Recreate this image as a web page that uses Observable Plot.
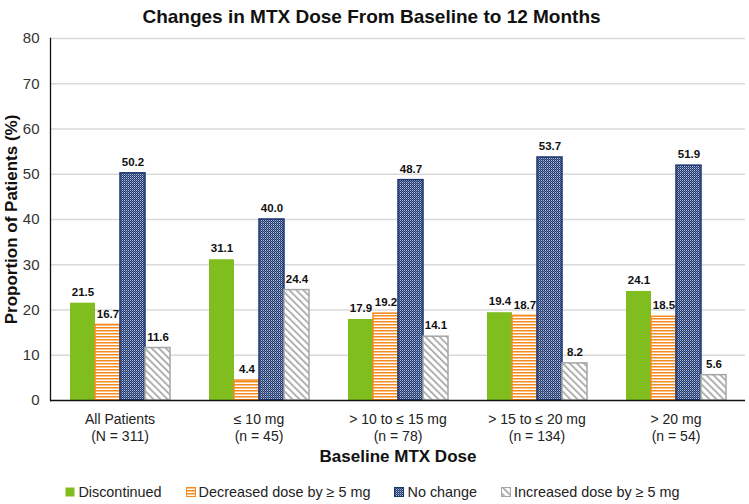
<!DOCTYPE html>
<html><head><meta charset="utf-8">
<script src="https://cdn.jsdelivr.net/npm/d3@7"></script>
<script src="https://cdn.jsdelivr.net/npm/@observablehq/plot@0.6"></script>
<style>
body{margin:0;background:#fff;font-family:"Liberation Sans",Arial,sans-serif;width:749px;height:504px;overflow:hidden;}
#title{height:30px;line-height:34px;text-align:center;font-weight:bold;font-size:19px;color:#111;padding-right:6px;}
#chart svg{display:block;font-family:"Liberation Sans",Arial,sans-serif;}
#legend{display:flex;justify-content:center;gap:24px;margin-top:14px;font-size:14.4px;color:#222;padding-right:4px;}
#legend span.item{display:flex;align-items:center;gap:3px;}
</style></head><body>
<svg width="0" height="0" style="position:absolute">
  <defs>
    <pattern id="pDec" patternUnits="userSpaceOnUse" width="4" height="3">
      <rect width="4" height="3" fill="#ffffff"/>
      <rect width="4" height="1.5" fill="#F58A1F"/>
    </pattern>
    <pattern id="pNo" patternUnits="userSpaceOnUse" width="2" height="2">
      <rect width="2" height="2" fill="#1F3A73"/>
      <rect width="1" height="1" fill="#B3BED3"/>
      <rect x="1" y="1" width="1" height="1" fill="#66769C"/>
    </pattern>
    <pattern id="pInc" patternUnits="userSpaceOnUse" width="5" height="5" patternTransform="rotate(-45)">
      <rect width="5" height="5" fill="#ffffff"/>
      <rect width="1.7" height="5" fill="#A6A6A6"/>
    </pattern>
  </defs>
</svg>
<div id="title">Changes in MTX Dose From Baseline to 12 Months</div>
<div id="chart"></div>
<div id="legend"></div>
<script>
// ---- data ----
const groups = ["All Patients", "≤ 10 mg", "> 10 to ≤ 15 mg", "> 15 to ≤ 20 mg", "> 20 mg"];
const groupN = ["(N = 311)", "(n = 45)", "(n = 78)", "(n = 134)", "(n = 54)"];
const series = ["Discontinued", "Decreased dose by ≥ 5 mg", "No change", "Increased dose by ≥ 5 mg"];
const discontinued = [21.5, 31.1, 17.9, 19.4, 24.1];
const decreased = [16.7, 4.4, 19.2, 18.7, 18.5];
const noChange = [50.2, 40.0, 48.7, 53.7, 51.9];
const increased = [11.6, 24.4, 14.1, 8.2, 5.6];
const yTicks = [0, 10, 20, 30, 40, 50, 60, 70, 80];

// ---- styles ----
const seriesFill = ["#80BD1E", "url(#pDec)", "url(#pNo)", "url(#pInc)"];
const seriesStroke = ["none", "#F58A1F", "#1B3570", "#A6A6A6"];

const valuesBySeries = [discontinued, decreased, noChange, increased];
const rows = [];
groups.forEach((g, gi) => {
  series.forEach((s, si) => {
    rows.push({group: g, series: s, value: valuesBySeries[si][gi], fill: seriesFill[si], stroke: seriesStroke[si]});
  });
});

const chart = Plot.plot({
  width: 749,
  height: 440,
  marginLeft: 48,
  marginRight: 2,
  marginTop: 8,
  marginBottom: 70,
  style: {fontFamily: "Liberation Sans, Arial, sans-serif", background: "#fff"},
  fx: {domain: groups, padding: 0},
  x: {domain: series, paddingInner: 0, paddingOuter: 0.74, axis: null},
  y: {domain: [0, 80]},
  color: {type: "identity"},
  marks: [
    Plot.ruleY(yTicks.slice(1), {stroke: "#D9D9D9", strokeWidth: 1.3}),
    Plot.barY(rows, {fx: "group", x: "series", y: "value", fill: "fill", stroke: "stroke", strokeWidth: 1.5}),
    Plot.text(rows, {fx: "group", x: "series", y: "value", text: d => d.value.toFixed(1), dy: -11, fontWeight: "bold", fontSize: 11.5, fill: "#111"}),
    Plot.ruleY([0], {stroke: "#111", strokeWidth: 1.3}),
    Plot.frame({anchor: "left", stroke: "#111", strokeWidth: 1.3, facet: "super"}),
    Plot.axisY(yTicks, {tickSize: 0, tickPadding: 11, fontSize: 15, fill: "#333", label: null}),
    Plot.axisFx({anchor: "bottom", tickSize: 0, tickPadding: 12, fontSize: 14, fill: "#222", label: null, lineHeight: 1.2,
      tickFormat: d => d + "\n" + groupN[groups.indexOf(d)]}),
    Plot.text(["Baseline MTX Dose"], {frameAnchor: "bottom", dy: 56, lineAnchor: "middle", fontWeight: "bold", fontSize: 17, fill: "#111", facet: "super"}),
    Plot.text(["Proportion of Patients (%)"], {frameAnchor: "left", textAnchor: "middle", dx: -39, rotate: -90, fontWeight: "bold", fontSize: 17, fill: "#111", facet: "super"})
  ]
});
document.getElementById("chart").appendChild(chart);

// legend
const legend = document.getElementById("legend");
series.forEach((s, si) => {
  const item = document.createElement("span");
  item.className = "item";
  item.innerHTML = `<svg width="10" height="10"><rect x="0.5" y="0.5" width="9" height="9" fill="${seriesFill[si]}" stroke="${seriesStroke[si]}" stroke-width="1"/></svg><span>${s.replace(/</g,"&lt;").replace(/>/g,"&gt;")}</span>`;
  legend.appendChild(item);
});
</script>
</body></html>
